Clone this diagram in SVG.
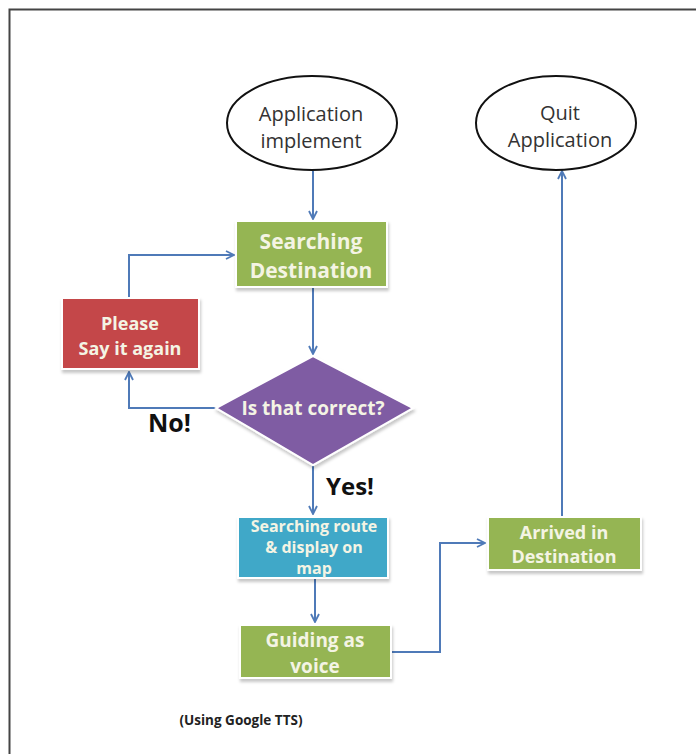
<svg xmlns="http://www.w3.org/2000/svg" width="696" height="754" viewBox="0 0 696 754">
<defs>
<marker id="ah" viewBox="0 0 10 10" refX="9" refY="5" markerWidth="10" markerHeight="10" markerUnits="userSpaceOnUse" orient="auto">
<path d="M1,1 L9,5 L1,9" fill="none" stroke="#4F7AB8" stroke-width="1.8"/>
</marker>
<filter id="sh" x="-10%" y="-10%" width="130%" height="140%">
<feDropShadow dx="1" dy="3" stdDeviation="1.5" flood-color="#000" flood-opacity="0.22"/>
</filter>
</defs>
<style>
.box{stroke:#fff;stroke-width:2;filter:url(#sh)}
.g{fill:#95B552}
.t{font-family:"Open Sans","Noto Sans",sans-serif;font-weight:bold;fill:#F4F4E4;text-anchor:middle}
.e{fill:#fff;stroke:#111;stroke-width:2}
.et{font-family:"Open Sans","Noto Sans",sans-serif;fill:#333;text-anchor:middle;font-size:20px}
.c{fill:none;stroke:#4F7AB8;stroke-width:2;marker-end:url(#ah)}
.lbl{font-family:"Open Sans","Noto Sans",sans-serif;font-weight:bold;fill:#111}
</style>
<rect width="696" height="754" fill="#fff"/>
<path d="M9.5,754 V9.5 H696" fill="none" stroke="#444" stroke-width="2"/>

<g id="connectors">
<path class="c" d="M313,171 V219"/>
<path class="c" d="M129,297 V255 H234"/>
<path class="c" d="M313,288 V354"/>
<path class="c" d="M217,408 H129 V372"/>
<path class="c" d="M313,466 V514"/>
<path class="c" d="M315,579 V622"/>
<path class="c" d="M392,652 H440 V543 H485"/>
<path class="c" d="M562,516 V171"/>
</g>

<g id="start">
<ellipse class="e" cx="312" cy="123" rx="85" ry="47"/>
<text class="et" x="311" y="121">Application</text>
<text class="et" x="311" y="148">implement</text>
</g>

<g id="quit">
<ellipse class="e" cx="556" cy="123" rx="80" ry="47"/>
<text class="et" x="560" y="120">Quit</text>
<text class="et" x="560" y="147">Application</text>
</g>

<g id="search">
<rect class="box g" x="236" y="221" width="151" height="66"/>
<text class="t" x="311" y="249" font-size="21">Searching</text>
<text class="t" x="311" y="278" font-size="21">Destination</text>
</g>

<g id="again">
<rect class="box" fill="#C4474A" x="62" y="298" width="137" height="71"/>
<text class="t" x="130" y="330" font-size="18">Please</text>
<text class="t" x="130" y="355" font-size="18">Say it again</text>
</g>

<g id="decision">
<polygon class="box" fill="#7F5BA3" points="313,356 413,408 313,465 216,408"/>
<text class="t" x="313" y="415" font-size="19">Is that correct?</text>
</g>

<text class="lbl" x="148" y="432" font-size="25">No!</text>
<text class="lbl" x="326" y="495" font-size="24">Yes!</text>

<g id="route">
<rect class="box" fill="#3FA8C8" x="238" y="517" width="150" height="61"/>
<text class="t" x="314" y="532" font-size="16">Searching route</text>
<text class="t" x="314" y="553" font-size="16">&amp; display on</text>
<text class="t" x="314" y="574" font-size="16">map</text>
</g>

<g id="guide">
<rect class="box g" x="240" y="625" width="151" height="53"/>
<text class="t" x="315" y="647" font-size="19">Guiding as</text>
<text class="t" x="315" y="673" font-size="19">voice</text>
</g>

<g id="arrived">
<rect class="box g" x="488" y="517" width="153" height="53"/>
<text class="t" x="564" y="539" font-size="18">Arrived in</text>
<text class="t" x="564" y="563" font-size="18">Destination</text>
</g>

<text x="241" y="725" font-family="'Open Sans','Noto Sans',sans-serif" font-weight="bold" font-size="13.5" fill="#222" text-anchor="middle">(Using Google TTS)</text>
</svg>
